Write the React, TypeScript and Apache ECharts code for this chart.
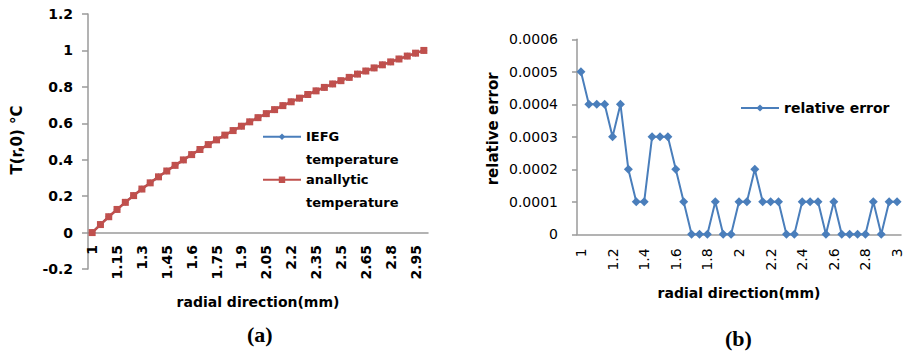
import React, { useEffect, useRef } from "react";
import * as echarts from "echarts";

const radialCategories = [
  "1", "1.05", "1.1", "1.15", "1.2", "1.25", "1.3", "1.35", "1.4", "1.45",
  "1.5", "1.55", "1.6", "1.65", "1.7", "1.75", "1.8", "1.85", "1.9", "1.95",
  "2", "2.05", "2.1", "2.15", "2.2", "2.25", "2.3", "2.35", "2.4", "2.45",
  "2.5", "2.55", "2.6", "2.65", "2.7", "2.75", "2.8", "2.85", "2.9", "2.95", "3",
];

const analyticTemperature = [
  0, 0.044, 0.087, 0.127, 0.166, 0.203, 0.239, 0.273, 0.306, 0.338,
  0.369, 0.399, 0.428, 0.456, 0.483, 0.509, 0.535, 0.56, 0.584, 0.608,
  0.631, 0.653, 0.675, 0.697, 0.718, 0.738, 0.758, 0.778, 0.797, 0.816,
  0.834, 0.852, 0.87, 0.887, 0.904, 0.921, 0.937, 0.953, 0.969, 0.985, 1,
];

const iefgTemperature = [
  0, 0.044, 0.087, 0.127, 0.166, 0.203, 0.239, 0.273, 0.306, 0.338,
  0.369, 0.399, 0.428, 0.456, 0.483, 0.509, 0.535, 0.56, 0.584, 0.608,
  0.631, 0.653, 0.675, 0.697, 0.718, 0.738, 0.758, 0.778, 0.797, 0.816,
  0.834, 0.852, 0.87, 0.887, 0.904, 0.921, 0.937, 0.953, 0.969, 0.985, 1,
];

const relativeError = [
  0.0005, 0.0004, 0.0004, 0.0004, 0.0003, 0.0004, 0.0002, 0.0001, 0.0001, 0.0003,
  0.0003, 0.0003, 0.0002, 0.0001, 0, 0, 0, 0.0001, 0, 0,
  0.0001, 0.0001, 0.0002, 0.0001, 0.0001, 0.0001, 0, 0, 0.0001, 0.0001,
  0.0001, 0, 0.0001, 0, 0, 0, 0, 0.0001, 0, 0.0001, 0.0001,
];

const FONT = "DejaVu Sans";
const AXIS_GRAY = "#9a9a9a";
const BLUE = "#4A7EBB";
const RED = "#C0504D";

export default function App() {
  const ref = useRef<HTMLDivElement>(null);
  useEffect(() => {
    if (!ref.current) return;
    const chart = echarts.init(ref.current, undefined, { renderer: "svg" });
    const legendText = { fontFamily: FONT, fontWeight: "bold", fontSize: 13, color: "#000", lineHeight: 22.5 };
    chart.setOption({
      animation: false,
      backgroundColor: "#ffffff",
      textStyle: { fontFamily: FONT },
      grid: [
        { left: 88, top: 14, width: 340, height: 255, containLabel: false },
        { left: 577, top: 39.3, width: 324, height: 195, containLabel: false },
      ],
      legend: [
        {
          data: ["IEFG temperature"],
          left: 262,
          top: 137 - 34,
          orient: "vertical",
          itemWidth: 38,
          itemHeight: 8,
          itemGap: 0,
          padding: 0,
          selectedMode: false,
          formatter: () => " \nIEFG\ntemperature",
          textStyle: legendText,
        },
        {
          data: ["anallytic temperature"],
          left: 262,
          top: 180 - 34,
          orient: "vertical",
          itemWidth: 38,
          itemHeight: 8,
          itemGap: 0,
          padding: 0,
          selectedMode: false,
          formatter: () => " \nanallytic\ntemperature",
          textStyle: legendText,
        },
        {
          data: ["relative error"],
          left: 740,
          top: 101,
          padding: 0,
          itemWidth: 38,
          itemHeight: 9,
          selectedMode: false,
          textStyle: { fontFamily: FONT, fontWeight: "bold", fontSize: 14, color: "#000" },
        },
      ],
      xAxis: [
        {
          type: "category",
          gridIndex: 0,
          data: radialCategories,
          boundaryGap: true,
          axisLine: { onZero: true, lineStyle: { color: AXIS_GRAY, width: 1.5 } },
          axisTick: { show: false },
          axisLabel: { interval: 2, rotate: 90, margin: -24, fontFamily: FONT, fontWeight: "bold", fontSize: 14, color: "#000" },
          splitLine: { show: false },
          name: "radial direction(mm)",
          nameLocation: "middle",
          nameMoveOverlap: false,
          nameGap: 26,
          nameTextStyle: { fontFamily: FONT, fontWeight: "bold", fontSize: 14, color: "#000" },
        },
        {
          type: "category",
          gridIndex: 1,
          data: radialCategories,
          boundaryGap: true,
          axisLine: { lineStyle: { color: AXIS_GRAY, width: 1.5 } },
          axisTick: { show: false },
          axisLabel: { interval: 3, rotate: 90, margin: 14, fontFamily: FONT, fontSize: 14, color: "#000" },
          splitLine: { show: false },
          name: "radial direction(mm)",
          nameLocation: "middle",
          nameMoveOverlap: false,
          nameGap: 52,
          nameTextStyle: { fontFamily: FONT, fontWeight: "bold", fontSize: 14, color: "#000" },
        },
      ],
      yAxis: [
        {
          type: "value",
          gridIndex: 0,
          min: -0.2,
          max: 1.2,
          interval: 0.2,
          axisLine: { show: true, lineStyle: { color: AXIS_GRAY, width: 1.5 } },
          axisTick: { show: true, length: 6, lineStyle: { color: AXIS_GRAY, width: 1.5 } },
          axisLabel: { margin: 15, fontFamily: FONT, fontWeight: "bold", fontSize: 14, color: "#000" },
          splitLine: { show: false },
          name: "T(r,0) °C",
          nameLocation: "middle",
          nameMoveOverlap: false,
          nameGap: 64,
          nameTextStyle: { fontFamily: FONT, fontWeight: "bold", fontSize: 15, color: "#000", padding: [0, 0, 0, 3] },
        },
        {
          type: "value",
          gridIndex: 1,
          min: 0,
          max: 0.0006,
          interval: 0.0001,
          axisLine: { show: true, lineStyle: { color: AXIS_GRAY, width: 1.5 } },
          axisTick: { show: true, length: 5, lineStyle: { color: AXIS_GRAY, width: 1.5 } },
          axisLabel: { margin: 19, fontFamily: FONT, fontSize: 14, color: "#000" },
          splitLine: { show: false },
          name: "relative error",
          nameLocation: "middle",
          nameMoveOverlap: false,
          nameGap: 77,
          nameTextStyle: { fontFamily: FONT, fontWeight: "bold", fontSize: 15, color: "#000", padding: [0, 0, 0, 16] },
        },
      ],
      series: [
        {
          name: "IEFG temperature",
          type: "line",
          xAxisIndex: 0,
          yAxisIndex: 0,
          data: iefgTemperature,
          symbol: "diamond",
          symbolSize: 7,
          showAllSymbol: true,
          itemStyle: { color: BLUE },
          lineStyle: { color: BLUE, width: 2 },
          z: 2,
        },
        {
          name: "anallytic temperature",
          type: "line",
          xAxisIndex: 0,
          yAxisIndex: 0,
          data: analyticTemperature,
          symbol: "rect",
          symbolSize: 7,
          showAllSymbol: true,
          itemStyle: { color: RED },
          lineStyle: { color: RED, width: 2.5 },
          z: 3,
        },
        {
          name: "relative error",
          type: "line",
          xAxisIndex: 1,
          yAxisIndex: 1,
          data: relativeError,
          symbol: "diamond",
          symbolSize: 9,
          showAllSymbol: true,
          itemStyle: { color: BLUE },
          lineStyle: { color: BLUE, width: 2 },
        },
      ],
      graphic: [
        {
          type: "text",
          left: 261 - 14,
          top: 323,
          style: { text: "(a)", font: "bold 22px 'Liberation Serif'", fill: "#000" },
        },
        {
          type: "text",
          left: 739 - 14,
          top: 327,
          style: { text: "(b)", font: "bold 22px 'Liberation Serif'", fill: "#000" },
        },
      ],
    });
    return () => chart.dispose();
  }, []);
  return <div ref={ref} style={{ position: "fixed", left: 0, top: 0, width: 906, height: 356 }} />;
}
